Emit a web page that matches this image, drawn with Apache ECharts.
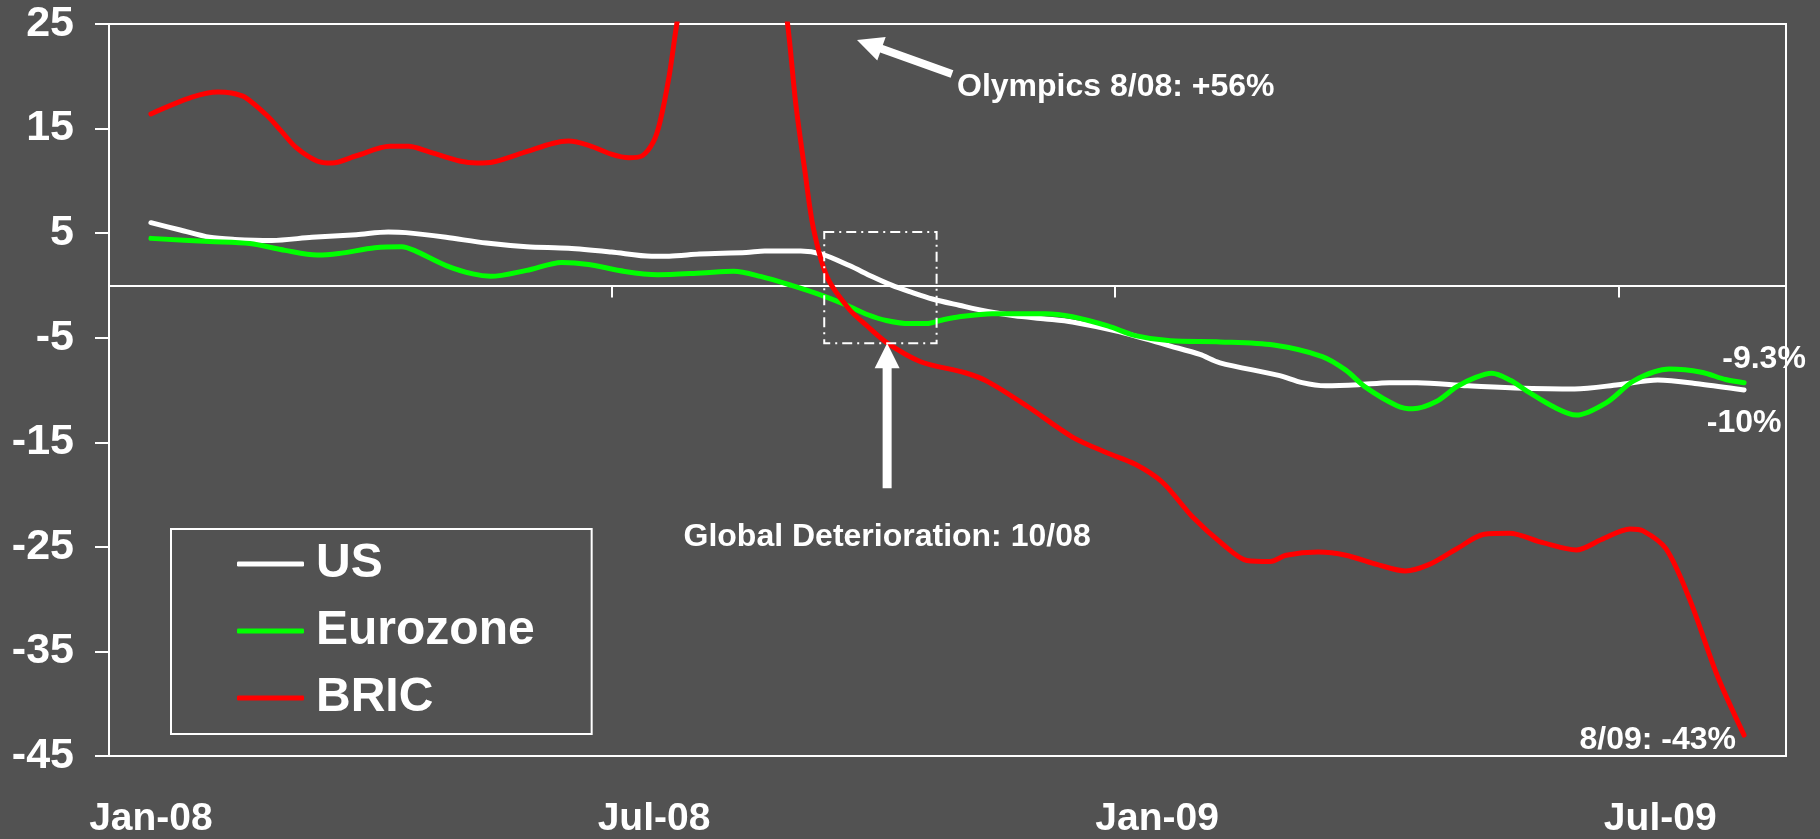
<!DOCTYPE html>
<html>
<head>
<meta charset="utf-8">
<script src="https://cdn.jsdelivr.net/npm/echarts@6/dist/echarts.min.js"></script>
<style>
  html, body { margin: 0; padding: 0; background: #525252; }
  #chart { width: 1820px; height: 839px; }
</style>
</head>
<body>
<div id="chart"></div>
<script>
// Year-over-year change, %. x = months counted from January 2008 (0 = Jan-08, 19 = Aug-09).
const usSeries = [
  [0, 6.0], [0.35, 5.3], [0.7, 4.6], [1.0, 4.4], [1.44, 4.3], [1.92, 4.6], [2.45, 4.85],
  [2.83, 5.1], [3.04, 5.05], [3.52, 4.6], [4.0, 4.05], [4.48, 3.7], [4.98, 3.55], [5.49, 3.2],
  [5.97, 2.8], [6.18, 2.8], [6.54, 3.0], [7.1, 3.15], [7.32, 3.3], [7.75, 3.3], [8.0, 3.0],
  [8.33, 1.9], [8.6, 0.85], [8.84, 0.0], [9.05, -0.6], [9.32, -1.3], [9.64, -1.9], [9.98, -2.5],
  [10.3, -2.9], [10.67, -3.2], [10.99, -3.5], [11.53, -4.4], [12.16, -5.8], [12.51, -6.6],
  [12.75, -7.4], [13.45, -8.6], [13.73, -9.3], [14.01, -9.6], [14.4, -9.5], [14.77, -9.3],
  [15.1, -9.3], [15.7, -9.6], [16.27, -9.8], [16.98, -9.9], [17.5, -9.5], [17.97, -9.05],
  [18.49, -9.45], [19.0, -10.0]
];
const eurozoneSeries = [
  [0, 4.5], [0.7, 4.2], [1.18, 4.0], [1.6, 3.35], [1.98, 2.9], [2.24, 3.05], [2.67, 3.6],
  [2.99, 3.7], [3.14, 3.35], [3.52, 1.9], [3.84, 1.1], [4.05, 0.87], [4.48, 1.44], [4.9, 2.2],
  [5.22, 2.0], [5.65, 1.34], [6.04, 1.03], [6.57, 1.2], [6.95, 1.35], [7.27, 0.86], [7.64, 0.0],
  [8.0, -0.95], [8.3, -1.9], [8.55, -2.8], [8.77, -3.35], [9.05, -3.65], [9.25, -3.65],
  [9.44, -3.3], [9.64, -3.0], [10.03, -2.7], [10.67, -2.7], [10.99, -3.0], [11.42, -3.9],
  [11.74, -4.8], [12.16, -5.3], [12.75, -5.4], [13.39, -5.7], [13.97, -6.8], [14.25, -8.1],
  [14.48, -9.7], [14.86, -11.5], [15.05, -11.8], [15.33, -11.1], [15.57, -9.7], [15.8, -8.8],
  [15.99, -8.4], [16.22, -9.1], [16.41, -10.1], [16.75, -11.7], [17.0, -12.4], [17.36, -11.2],
  [17.69, -9.1], [18.11, -8.0], [18.49, -8.3], [18.78, -9.0], [19.0, -9.3]
];
const bricSeries = [
  [0, 16.4], [0.49, 18.0], [0.8, 18.5], [0.96, 18.4], [1.12, 18.0], [1.39, 16.2], [1.55, 14.8],
  [1.73, 13.2], [1.98, 11.9], [2.16, 11.7], [2.45, 12.4], [2.85, 13.3], [3.07, 13.3], [3.31, 12.8],
  [3.68, 11.9], [3.89, 11.7], [4.08, 11.8], [4.48, 12.8], [4.8, 13.6], [4.98, 13.8], [5.22, 13.4],
  [5.49, 12.55], [5.7, 12.2], [5.86, 12.4], [5.99, 13.7], [6.07, 15.6], [6.18, 20.0], [6.29, 25.9],
  [7.0, 56.0], [7.58, 25.8], [7.69, 17.4], [7.8, 10.9], [7.9, 5.5], [8.07, 0.7], [8.33, -2.3],
  [8.53, -3.8], [8.78, -5.5], [9.18, -7.3], [9.71, -8.35], [9.98, -9.2], [10.46, -11.6],
  [10.99, -14.5], [11.4, -16.0], [11.74, -17.1], [12.06, -18.8], [12.43, -22.2], [12.79, -24.8],
  [13.07, -26.3], [13.35, -26.4], [13.54, -25.8], [13.92, -25.5], [14.25, -25.8], [14.63, -26.7],
  [14.96, -27.3], [15.24, -26.7], [15.57, -25.2], [15.9, -23.8], [16.2, -23.7], [16.6, -24.6],
  [17.0, -25.3], [17.3, -24.3], [17.64, -23.3], [17.8, -23.5], [18.07, -25.2], [18.35, -30.0],
  [18.68, -37.3], [19.0, -43.0]
];

const seriesNames = ['US', 'Eurozone', 'BRIC'];
const seriesColors = ['#ffffff', '#00ff00', '#ff0000'];
const endLabelText = ['-10%', '-9.3%', '8/09: -43%'];

const xLabelMonths = [0, 6, 12, 18];
const xLabelText = ['Jan-08', 'Jul-08', 'Jan-09', 'Jul-09'];
const xTickMonths = [-0.5, 5.5, 11.5, 17.5];
const yTickValues = [-45, -35, -25, -15, -5, 5, 15, 25];

// Annotated region (Oct-08 break) in data units: [month, value] corners
const highlightBox = [[8.03, 5.1], [9.37, -5.54]];
const olympicsNote = 'Olympics 8/08: +56%';
const globalNote = 'Global Deterioration: 10/08';

const FONT = '"Liberation Sans", Arial, Helvetica, sans-serif';
const WHITE = '#ffffff';

const chart = echarts.init(document.getElementById('chart'), null, { renderer: 'canvas' });

const allSeries = [usSeries, eurozoneSeries, bricSeries];

chart.setOption({
  backgroundColor: '#525252',
  animation: false,
  grid: {
    left: 109, right: 34, top: 24, bottom: 80,
    show: true, borderColor: WHITE, borderWidth: 2, backgroundColor: 'transparent'
  },
  legend: {
    orient: 'vertical',
    left: 171, top: 529,
    padding: [7, 57, 8, 66],
    borderColor: WHITE, borderWidth: 2,
    icon: 'roundRect',
    itemWidth: 67, itemHeight: 5, itemGap: 11,
    textStyle: {
      color: WHITE, fontSize: 48, fontWeight: 'bold', fontFamily: FONT,
      lineHeight: 56, padding: [0, 0, 0, 7]
    },
    data: seriesNames
  },
  xAxis: [
    {
      // axis line across y = 0 with the half-year tick marks
      type: 'value', min: -0.5, max: 19.5,
      axisLine: { show: true, onZero: true, lineStyle: { color: WHITE, width: 2 } },
      axisTick: { show: true, length: 12, customValues: xTickMonths, lineStyle: { color: WHITE, width: 2 } },
      axisLabel: { show: false },
      splitLine: { show: false }
    },
    {
      // date labels along the bottom edge
      type: 'value', min: -0.5, max: 19.5, position: 'bottom',
      axisLine: { show: true, onZero: false, lineStyle: { color: WHITE, width: 2 } },
      axisTick: { show: false },
      axisLabel: {
        show: true, customValues: xLabelMonths, margin: 44,
        color: WHITE, fontSize: 39, fontWeight: 'bold', fontFamily: FONT,
        formatter: v => xLabelText[xLabelMonths.indexOf(Math.round(v))] || ''
      },
      splitLine: { show: false }
    }
  ],
  yAxis: {
    type: 'value', min: -45, max: 25,
    axisLine: { show: true, onZero: false, lineStyle: { color: WHITE, width: 2 } },
    axisTick: { show: true, length: 14, customValues: yTickValues, lineStyle: { color: WHITE, width: 2 } },
    axisLabel: {
      show: true, customValues: yTickValues, margin: 35,
      color: WHITE, fontSize: 43, fontWeight: 'bold', fontFamily: FONT
    },
    splitLine: { show: false }
  },
  series: allSeries.map((d, i) => ({
    name: seriesNames[i],
    type: 'line',
    xAxisIndex: 0,
    data: d,
    showSymbol: false,
    smooth: 0.3,
    clip: true,
    z: 3 + i,
    lineStyle: { color: seriesColors[i], width: 5, cap: 'round', join: 'round' },
    itemStyle: { color: seriesColors[i] }
  }))
});

function toPx(pt) {
  return chart.convertToPixel({ xAxisIndex: 0, yAxisIndex: 0 }, pt);
}

function arrowPoints(tail, tip, shaft, headLen, headW) {
  const dx = tip[0] - tail[0], dy = tip[1] - tail[1];
  const L = Math.hypot(dx, dy);
  const ux = dx / L, uy = dy / L, nx = -uy, ny = ux;
  const bx = tip[0] - ux * headLen, by = tip[1] - uy * headLen;
  const s = shaft / 2, h = headW / 2;
  return [
    [tail[0] + nx * s, tail[1] + ny * s], [bx + nx * s, by + ny * s], [bx + nx * h, by + ny * h],
    tip,
    [bx - nx * h, by - ny * h], [bx - nx * s, by - ny * s], [tail[0] - nx * s, tail[1] - ny * s]
  ];
}

function noteText(x, y, text, align) {
  return {
    type: 'text', x: x, y: y, z: 20,
    style: {
      text: text, fill: WHITE, fontSize: 32, fontWeight: 'bold', fontFamily: FONT,
      align: align || 'center', verticalAlign: 'middle'
    }
  };
}

const boxA = toPx(highlightBox[0]);
const boxB = toPx(highlightBox[1]);
const boxBottomTip = [toPx([8.78, -5.54])[0], boxB[1]];

const usEnd = toPx(usSeries[usSeries.length - 1]);
const euEnd = toPx(eurozoneSeries[eurozoneSeries.length - 1]);
const brEnd = toPx(bricSeries[bricSeries.length - 1]);

chart.setOption({
  graphic: [
    {
      type: 'rect', z: 15,
      shape: { x: boxA[0], y: boxA[1], width: boxB[0] - boxA[0], height: boxB[1] - boxA[1] },
      style: { fill: 'none', stroke: WHITE, lineWidth: 2, lineDash: [10, 5, 2, 5] }
    },
    {
      type: 'polygon', z: 15,
      shape: { points: arrowPoints([boxBottomTip[0], boxBottomTip[1] + 145], boxBottomTip, 9, 25, 25) },
      style: { fill: WHITE }
    },
    noteText(boxBottomTip[0], 537, globalNote, 'center'),
    {
      type: 'polygon', z: 15,
      shape: { points: arrowPoints([952, 74], [857, 40], 8, 26, 25) },
      style: { fill: WHITE }
    },
    noteText(957, 87, olympicsNote, 'left'),
    noteText(usEnd[0], usEnd[1] + 33, endLabelText[0], 'center'),
    noteText(euEnd[0] + 20, euEnd[1] - 24, endLabelText[1], 'center'),
    noteText(brEnd[0] - 8, brEnd[1] + 5, endLabelText[2], 'right')
  ]
});
</script>
</body>
</html>
